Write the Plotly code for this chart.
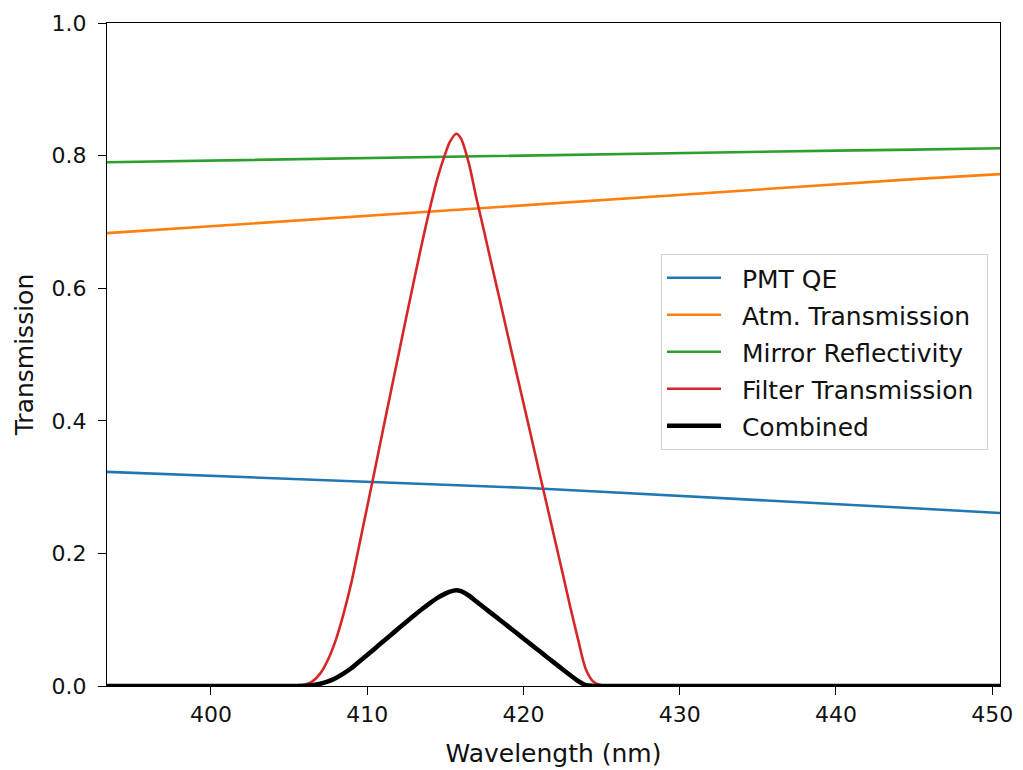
import plotly.graph_objects as go

# Wavelength grids (nm)
wl_smooth = [393.35, 400.0, 405.0, 410.0, 415.0, 420.0, 425.0, 430.0, 435.0, 440.0, 445.0, 450.5]
pmt_qe = [0.323, 0.317, 0.312, 0.307, 0.303, 0.299, 0.293, 0.287, 0.280, 0.274, 0.268, 0.261]
atm_trans = [0.683, 0.6935, 0.7015, 0.7095, 0.7175, 0.7255, 0.7335, 0.741, 0.749, 0.757, 0.7645, 0.772]
mirror_refl = [0.790, 0.7925, 0.7945, 0.797, 0.799, 0.8005, 0.802, 0.804, 0.8057, 0.8075, 0.809, 0.811]

wl_band = [393.35, 405.0, 405.5, 406.0, 406.5, 407.0, 407.5, 408.0, 408.5, 409.0,
           409.5, 410.0, 410.5, 411.0, 411.5, 412.0, 412.5, 413.0, 413.5, 414.0,
           414.5, 415.0, 415.3, 415.7, 416.0, 416.5, 417.0, 417.5, 418.0, 418.5,
           419.0, 419.5, 420.0, 420.5, 421.0, 421.5, 422.0, 422.5, 423.0, 423.5,
           424.0, 424.5, 425.0, 425.5, 450.5]
filter_trans = [0.0, 0.0, 0.0004, 0.002, 0.007, 0.019, 0.040, 0.070, 0.110, 0.157,
                0.213, 0.270, 0.327, 0.385, 0.442, 0.499, 0.556, 0.612, 0.667, 0.719,
                0.766, 0.803, 0.821, 0.833, 0.826, 0.789, 0.735, 0.684, 0.632, 0.581,
                0.529, 0.478, 0.427, 0.376, 0.324, 0.273, 0.222, 0.171, 0.119, 0.070,
                0.025, 0.006, 0.001, 0.0, 0.0]
combined = [0.0, 0.0, 0.0, 0.0003, 0.0012, 0.0033, 0.0069, 0.0121, 0.0191, 0.0272,
            0.0370, 0.0468, 0.0567, 0.0668, 0.0767, 0.0866, 0.0965, 0.1062, 0.1157, 0.1247,
            0.1329, 0.1393, 0.1424, 0.1445, 0.1430, 0.1365, 0.1272, 0.1180, 0.1088, 0.0996,
            0.0903, 0.0810, 0.0717, 0.0624, 0.0531, 0.0438, 0.0345, 0.0253, 0.0162, 0.0075,
            0.0012, 0.0001, 0.0, 0.0, 0.0]

x_ticks = [400, 410, 420, 430, 440, 450]
y_ticks = [0.0, 0.2, 0.4, 0.6, 0.8, 1.0]

FONT = "DejaVu Sans"
TEXT = "#111111"
PAD = "\u00a0\u00a0"  # gap between legend line sample and its label

fig = go.Figure()
series = [
    ("PMT QE", wl_smooth, pmt_qe, "#1f77b4", 2.6, "linear"),
    ("Atm. Transmission", wl_smooth, atm_trans, "#ff7f0e", 2.6, "linear"),
    ("Mirror Reflectivity", wl_smooth, mirror_refl, "#2ca02c", 2.6, "linear"),
    ("Filter Transmission", wl_band, filter_trans, "#d62728", 2.6, "spline"),
    ("Combined", wl_band, combined, "#000000", 4.6, "spline"),
]
for i, (name, x, y, color, width, shape) in enumerate(series):
    line = dict(color=color, width=width, shape=shape)
    if shape == "spline":
        line["smoothing"] = 0.8
    fig.add_trace(go.Scatter(
        x=x, y=y, name=PAD + name + "\u00a0", mode="lines", legendgroup=f"g{i}", line=line,
    ))

axis_common = dict(
    showgrid=False, zeroline=False, showline=True, mirror=True, automargin=False,
    linecolor="black", linewidth=1.3, ticks="outside", ticklen=8,
    tickwidth=1.3, tickcolor="black",
    tickfont=dict(family=FONT, size=22, color=TEXT),
)

fig.update_layout(
    width=1023, height=770,
    margin=dict(l=107, r=23, t=23, b=84),
    paper_bgcolor="white", plot_bgcolor="white",
    font=dict(family=FONT, size=22, color=TEXT),
    xaxis=dict(range=[393.35, 450.5], tickvals=x_ticks,
               title=dict(text="Wavelength (nm)", font=dict(family=FONT, size=25, color=TEXT), standoff=18),
               **axis_common),
    yaxis=dict(range=[0, 1], tickvals=y_ticks, tickformat=".1f", ticklabelstandoff=7,
               title=dict(text="Transmission", font=dict(family=FONT, size=25, color=TEXT), standoff=10),
               **axis_common),
    legend=dict(
        x=0.6204, y=0.6515, xanchor="left", yanchor="top",
        bgcolor="white", bordercolor="#d0d0d0", borderwidth=1,
        font=dict(family=FONT, size=25, color=TEXT),
        tracegroupgap=1.5, itemwidth=54,
    ),
    showlegend=True,
)

fig.write_html("out.html")
